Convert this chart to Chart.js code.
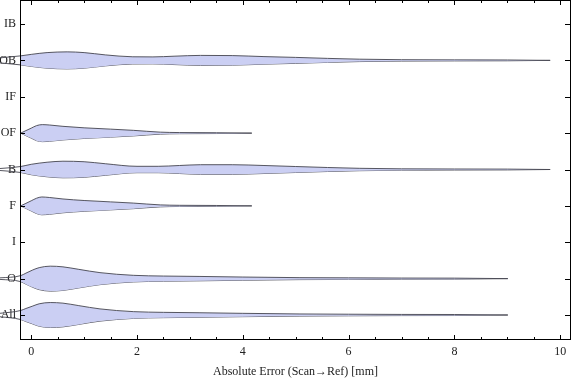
<!DOCTYPE html>
<html>
<head>
<meta charset="utf-8">
<script src="https://cdn.jsdelivr.net/npm/chart.js@4/dist/chart.umd.min.js"></script>
<style>
  html, body { margin: 0; padding: 0; background: #fff; }
  #wrap { width: 576px; height: 381px; }
</style>
</head>
<body>
<div id="wrap"><canvas id="c"></canvas></div>
<script>
// rows, bottom to top (y value = index)
const categories = ['All', 'O', 'I', 'F', 'B', 'OF', 'IF', 'OB', 'IB'];
const xTicks = [0, 2, 4, 6, 8, 10];

// violin profiles: error value (mm) and half width (in row units)
const obX = [-0.8, -0.59, -0.2, 0.0, 0.3, 0.68, 1.0, 1.4, 1.92, 2.3, 2.7, 3.2, 3.8, 4.4, 5.0, 5.6, 6.2, 7.0, 8.0, 9.0, 9.81];
const obW = [0.027, 0.069, 0.124, 0.165, 0.214, 0.234, 0.214, 0.151, 0.099, 0.096, 0.115, 0.137, 0.132, 0.104, 0.082, 0.055, 0.033, 0.019, 0.014, 0.011, 0];

const ofX = [-0.2, -0.1, 0.0, 0.1, 0.21, 0.35, 0.6, 1.0, 1.5, 1.93, 2.44, 2.8, 3.5, 4.17];
const ofW = [0, 0.069, 0.137, 0.206, 0.234, 0.223, 0.187, 0.146, 0.11, 0.077, 0.027, 0.016, 0.011, 0];

const bX = [-0.8, -0.59, -0.2, 0.0, 0.3, 0.6, 1.0, 1.4, 2.0, 2.4, 2.8, 3.2, 3.8, 4.4, 5.0, 5.6, 6.2, 7.0, 8.0, 9.0, 9.81];
const bW = [0.008, 0.027, 0.082, 0.143, 0.2, 0.228, 0.214, 0.159, 0.088, 0.088, 0.11, 0.132, 0.132, 0.11, 0.082, 0.055, 0.033, 0.019, 0.014, 0.011, 0];

const fX = [-0.2, -0.1, 0.0, 0.1, 0.2, 0.35, 0.6, 1.0, 1.5, 1.93, 2.44, 2.8, 3.5, 4.17];
const fW = [0, 0.069, 0.14, 0.21, 0.245, 0.23, 0.19, 0.148, 0.11, 0.077, 0.027, 0.016, 0.011, 0];

const oX = [-0.8, -0.59, -0.2, -0.1, 0.03, 0.15, 0.36, 0.6, 0.9, 1.3, 1.93, 2.5, 3.19, 4.0, 5.08, 6.0, 7.0, 8.0, 9.01];
const oW = [0.008, 0.022, 0.082, 0.151, 0.239, 0.302, 0.343, 0.324, 0.255, 0.165, 0.091, 0.071, 0.06, 0.044, 0.027, 0.022, 0.016, 0.014, 0];

const allX = [-0.8, -0.59, -0.2, -0.1, 0.03, 0.15, 0.36, 0.6, 0.9, 1.3, 1.93, 2.5, 3.19, 4.0, 5.08, 6.0, 7.0, 8.0, 9.01];
const allW = [0.014, 0.047, 0.124, 0.179, 0.247, 0.308, 0.343, 0.326, 0.258, 0.168, 0.093, 0.073, 0.062, 0.046, 0.029, 0.022, 0.016, 0.014, 0];

const violins = [
  { cat: 'OB', xs: obX, ws: obW },
  { cat: 'OF', xs: ofX, ws: ofW },
  { cat: 'B',  xs: bX,  ws: bW },
  { cat: 'F',  xs: fX,  ws: fW },
  { cat: 'O',  xs: oX,  ws: oW },
  { cat: 'All', xs: allX, ws: allW },
];

const FILL = '#cbcff3';
const EDGE = 'rgba(70,70,80,0.9)';

const datasets = [];
violins.forEach(v => {
  const c = categories.indexOf(v.cat);
  const common = {
    type: 'line', borderColor: EDGE, borderWidth: 1, pointRadius: 0,
    cubicInterpolationMode: 'monotone', clip: false, backgroundColor: FILL,
  };
  datasets.push({ ...common, label: v.cat + ' upper', fill: '+1',
    data: v.xs.map((x, i) => ({ x, y: c + v.ws[i] })) });
  datasets.push({ ...common, label: v.cat + ' lower', fill: false,
    data: v.xs.map((x, i) => ({ x, y: c - v.ws[i] })) });
});

// frame with inward ticks, Mathematica style
const framePlugin = {
  id: 'frame',
  afterDatasetsDraw(chart) {
    const { ctx, chartArea: a, scales: { x, y } } = chart;
    ctx.save();
    ctx.strokeStyle = '#000';
    ctx.lineWidth = 1;
    ctx.strokeRect(a.left + 0.5, a.top + 0.5, a.right - a.left - 1, a.bottom - a.top - 1);
    ctx.beginPath();
    xTicks.forEach(t => {
      const px = Math.round(x.getPixelForValue(t)) + 0.5;
      ctx.moveTo(px, a.bottom); ctx.lineTo(px, a.bottom - 5);
      ctx.moveTo(px, a.top); ctx.lineTo(px, a.top + 5);
      for (let k = 1; k <= 3; k++) {
        const m = t + k * 0.5;
        if (m > x.max) break;
        const mx = Math.round(x.getPixelForValue(m)) + 0.5;
        ctx.moveTo(mx, a.bottom); ctx.lineTo(mx, a.bottom - 3);
        ctx.moveTo(mx, a.top); ctx.lineTo(mx, a.top + 3);
      }
    });
    categories.forEach((_, i) => {
      const py = Math.round(y.getPixelForValue(i)) + 0.5;
      ctx.moveTo(a.left, py); ctx.lineTo(a.left + 5, py);
      ctx.moveTo(a.right, py); ctx.lineTo(a.right - 6, py);
    });
    ctx.stroke();
    ctx.restore();
  }
};

const font = { family: '"Liberation Serif", "Times New Roman", serif', size: 12 };

new Chart(document.getElementById('c'), {
  type: 'line',
  data: { datasets },
  options: {
    responsive: true,
    maintainAspectRatio: false,
    animation: false,
    layout: { padding: { left: 0, right: 5, top: 0, bottom: 0 } },
    plugins: { legend: { display: false }, tooltip: { enabled: false } },
    scales: {
      x: {
        type: 'linear', min: -0.212, max: 10.204,
        grid: { display: false, drawTicks: false },
        border: { display: false },
        afterBuildTicks: s => { s.ticks = xTicks.map(v => ({ value: v })); },
        afterFit: s => { s.height = 41; s.paddingLeft = 0; s.paddingRight = 0; },
        ticks: { color: '#222', font, padding: 5 },
        title: { display: true, text: 'Absolute Error (Scan→Ref) [mm]', color: '#222',
                 font, padding: { top: 0, bottom: 2 } },
      },
      y: {
        type: 'linear', min: -0.687, max: 8.66,
        grid: { display: false, drawTicks: false },
        border: { display: false },
        afterBuildTicks: s => { s.ticks = categories.map((_, i) => ({ value: i })); },
        afterFit: s => { s.width = 20; s.paddingTop = 0; s.paddingBottom = 0; },
        ticks: { color: '#222', font, padding: 4, callback: v => categories[v] },
      },
    },
  },
  plugins: [framePlugin],
});
</script>
</body>
</html>
